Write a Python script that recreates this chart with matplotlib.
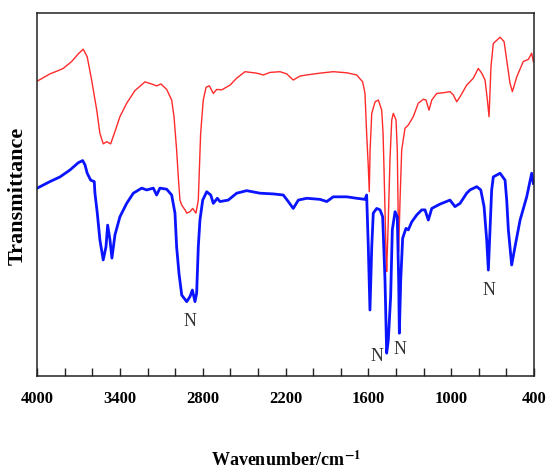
import matplotlib.pyplot as plt
from matplotlib.ticker import MultipleLocator, NullLocator


RED_WN = [4000, 3908, 3848, 3812, 3751, 3703, 3667, 3638, 3606, 3569,
          3546, 3522, 3497, 3468, 3437, 3401, 3352, 3292, 3219, 3171,
          3135, 3103, 3062, 3026, 3009, 2990, 2978, 2966, 2953, 2929,
          2917, 2893, 2874, 2850, 2833, 2828, 2816, 2797, 2777, 2753,
          2724, 2700, 2663, 2603, 2555, 2495, 2410, 2362, 2313, 2241,
          2192, 2145, 2096, 2047, 1951, 1855, 1757, 1685, 1642, 1625,
          1613, 1601, 1594, 1588, 1576, 1552, 1528, 1504, 1494, 1487,
          1480, 1473, 1468, 1456, 1444, 1431, 1420, 1400, 1391, 1386,
          1381, 1371, 1359, 1335, 1311, 1275, 1239, 1202, 1183, 1161,
          1141, 1105, 1057, 1009, 985, 960, 936, 888, 840, 804,
          779, 755, 738, 726, 712, 695, 646, 617, 598, 574,
          557, 525, 478, 441, 417, 405]
RED_T = [81.3, 83.3, 84.2, 84.8, 86.7, 88.8, 90.1, 88.0, 81.6, 73.3,
         66.9, 64.0, 64.6, 64.0, 67.4, 71.5, 75.2, 78.7, 81.1, 80.5,
         80.0, 80.5, 79.0, 76.1, 71.5, 62.3, 54.9, 48.5, 47.1, 45.8,
         44.9, 45.3, 46.2, 44.9, 48.5, 54.0, 66.9, 76.1, 79.6, 80.0,
         77.9, 79.0, 78.9, 80.2, 82.1, 83.9, 83.5, 83.0, 83.7, 83.9,
         83.3, 81.6, 82.7, 83.0, 83.5, 83.9, 83.6, 83.0, 81.1, 77.9,
         66.9, 57.7, 50.8, 62.3, 72.4, 75.6, 76.1, 73.3, 67.0, 56.8,
         45.8, 34.7, 28.8, 43.0, 59.6, 70.6, 72.4, 70.6, 62.3, 48.5,
         34.3, 48.5, 62.3, 68.3, 69.2, 71.5, 75.2, 76.3, 76.1, 73.3,
         76.1, 77.9, 78.1, 78.4, 77.5, 75.6, 77.0, 80.2, 82.1, 84.8,
         83.5, 81.6, 76.1, 71.5, 85.3, 91.7, 93.4, 92.2, 87.1, 80.7,
         78.4, 82.5, 86.7, 87.3, 89.0, 86.7]

BLUE_WN = [4000, 3908, 3835, 3763, 3703, 3671, 3654, 3638, 3613, 3587,
           3582, 3565, 3546, 3522, 3502, 3490, 3473, 3459, 3437, 3401,
           3352, 3304, 3243, 3207, 3159, 3135, 3111, 3062, 3026, 3002,
           2990, 2973, 2953, 2917, 2893, 2876, 2857, 2845, 2833, 2821,
           2801, 2772, 2743, 2724, 2695, 2676, 2616, 2555, 2482, 2386,
           2289, 2217, 2181, 2145, 2108, 2047, 1951, 1902, 1855, 1757,
           1685, 1625, 1613, 1601, 1589, 1576, 1565, 1540, 1516, 1497,
           1480, 1468, 1456, 1439, 1427, 1407, 1391, 1381, 1376, 1366,
           1352, 1328, 1311, 1286, 1250, 1214, 1190, 1166, 1141, 1081,
           1009, 973, 936, 888, 864, 815, 786, 762, 743, 731,
           719, 707, 695, 646, 610, 598, 586, 562, 538, 501,
           453, 417, 405]
BLUE_T = [51.8, 53.6, 54.9, 56.8, 58.8, 59.4, 58.2, 55.9, 54.0, 53.6,
          50.4, 44.9, 37.5, 32.0, 35.6, 41.6, 37.5, 32.5, 38.9, 43.9,
          47.6, 50.4, 51.8, 51.3, 51.8, 49.9, 51.8, 51.5, 49.9, 44.9,
          35.6, 28.3, 22.3, 20.5, 21.9, 23.7, 20.5, 22.8, 35.6, 43.0,
          48.5, 50.8, 49.9, 47.6, 49.0, 48.1, 48.5, 50.4, 51.1, 50.4,
          50.2, 49.9, 48.1, 46.2, 48.5, 49.0, 48.7, 48.1, 49.4, 49.4,
          49.0, 48.7, 49.9, 35.6, 18.2, 35.6, 44.9, 46.2, 45.8, 43.9,
          26.5, 6.3, 9.9, 21.9, 40.3, 45.3, 43.9, 26.5, 11.8, 26.5,
          38.0, 40.7, 40.3, 42.5, 44.4, 45.8, 45.8, 43.0, 46.2, 47.4,
          48.5, 46.7, 47.6, 50.4, 51.3, 52.2, 51.3, 46.7, 37.5, 29.2,
          40.3, 51.3, 54.9, 55.9, 54.0, 48.5, 40.3, 30.6, 35.6, 43.0,
          49.4, 55.9, 53.1]

# "N" marks under the nitrogen related bands
N_WN = [2892, 1540, 1371, 724]
N_T = [15.0, 5.3, 7.2, 23.7]


def plot_ftir():
    plt.rcParams['font.family'] = ['Liberation Serif', 'DejaVu Serif']
    plt.rcParams['mathtext.fontset'] = 'stix'

    fig = plt.figure(figsize=(5.48, 4.70), dpi=100)
    ax = fig.add_axes([0.068, 0.2, 0.9065, 0.7717])

    ax.plot(RED_WN, RED_T, color='#ff2a2a', linewidth=1.0)
    ax.plot(BLUE_WN, BLUE_T, color='#0a14ff', linewidth=2.0)

    for wn, t in zip(N_WN, N_T):
        ax.text(wn, t, 'N', ha='center', va='center',
                fontsize=13, color='#333333')

    ax.set_xlim(4000, 400)
    ax.set_ylim(0, 100)

    # ticks: labels every 600, marks every 200, pointing inwards
    ax.xaxis.set_major_locator(MultipleLocator(600, offset=400))
    ax.xaxis.set_minor_locator(MultipleLocator(200))
    ax.yaxis.set_major_locator(NullLocator())
    ax.tick_params(axis='x', which='both', direction='in', length=6,
                   width=1.0, color='#222222', pad=11)
    for lbl in ax.get_xticklabels():
        lbl.set_fontweight('bold')
        lbl.set_fontsize(12)

    for sp in ax.spines.values():
        sp.set_linewidth(1.1)
        sp.set_color('#222222')

    ax.set_xlabel(r'Wavenumber/cm$^{\mathbf{-1}}$', fontsize=13,
                  fontweight='bold')
    ax.xaxis.set_label_coords(0.5, -0.232)
    ax.xaxis.label.set_va('center')

    ax.set_ylabel('Transmittance', fontsize=16, fontweight='bold')
    ax.yaxis.set_label_coords(-0.039, 0.496)
    ax.yaxis.label.set_va('center')

    fig.savefig('out.png', dpi=100)


plot_ftir()
